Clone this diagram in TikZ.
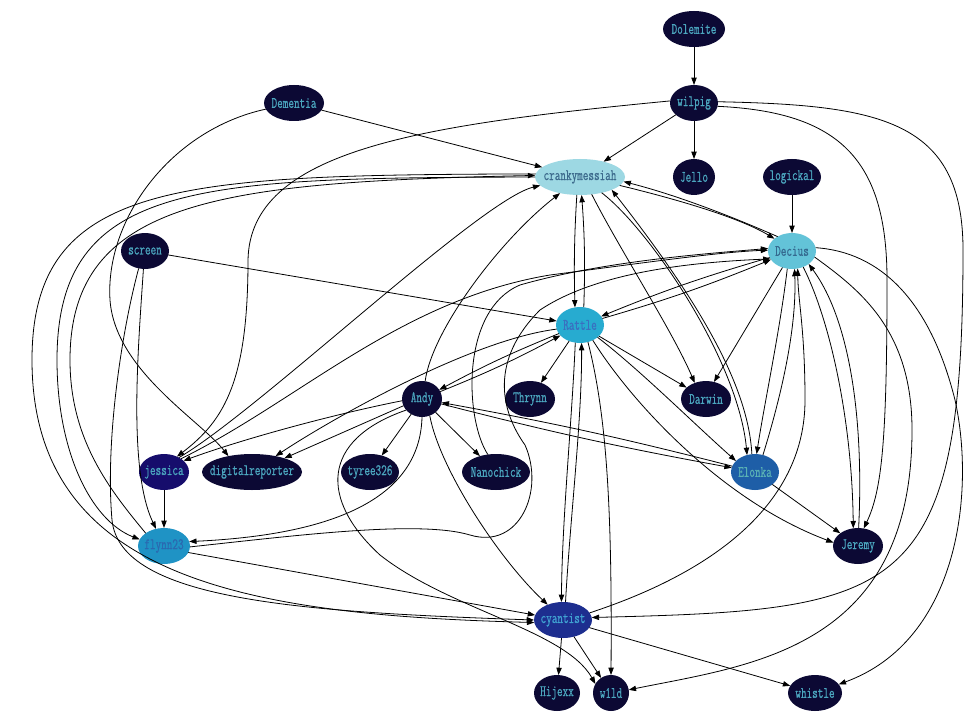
\documentclass[tikz,border=0pt]{standalone}
\usepackage{fontspec}
\newfontfamily\nf[FakeStretch=0.68,FakeBold=0.6]{Latin Modern Mono}
\usetikzlibrary{shapes.geometric,arrows.meta}
\definecolor{dk}{HTML}{0C0934}
\definecolor{cm}{HTML}{9DD8E3}
\definecolor{dc}{HTML}{63C3D8}
\definecolor{rt}{HTML}{27ABD0}
\definecolor{fl}{HTML}{1F93C5}
\definecolor{el}{HTML}{1E5EA7}
\definecolor{cy}{HTML}{1D2E8F}
\definecolor{js}{HTML}{160D6C}
\definecolor{lbl}{HTML}{4BA6BF}
\definecolor{lrt}{HTML}{3A6FC0}
\definecolor{lfl}{HTML}{2B68B0}
\definecolor{lcm}{HTML}{3C6A8C}
\definecolor{ldc}{HTML}{34698F}
\definecolor{lel}{HTML}{5AB2B5}
\definecolor{lcy}{HTML}{40A2D2}
\newcommand\lb[1]{\makebox[0pt]{#1}}
\begin{document}
\begin{tikzpicture}[x=0.75pt,y=-0.75pt,
  nd/.style={ellipse,inner sep=0pt,outer sep=0pt,minimum height=27pt,fill=dk,text=lbl,font=\nf\fontsize{12}{14}\selectfont},
  e/.style={draw=black,line width=0.6pt,-{Triangle[length=5.5pt,width=4pt]}}]
\useasboundingbox (0,0) rectangle (980,720);
\fill[white] (0,0) rectangle (980,720);
% nodes
\node[nd,minimum width=46.5pt] (Dolemite) at (694,29) {\lb{Dolemite}};
\node[nd,minimum width=36pt] (wilpig) at (694,103) {\lb{wilpig}};
\node[nd,minimum width=45pt] (Dementia) at (294,103) {\lb{Dementia}};
\node[nd,fill=cm,text=lcm,minimum width=67.5pt] (crankymessiah) at (580,177) {\lb{crankymessiah}};
\node[nd,minimum width=31.5pt] (Jello) at (694,177) {\lb{Jello}};
\node[nd,minimum width=43.5pt] (logickal) at (792,177) {\lb{logickal}};
\node[nd,minimum width=36pt] (screen) at (145,251) {\lb{screen}};
\node[nd,fill=dc,text=ldc,minimum width=36pt] (Decius) at (792,251) {\lb{Decius}};
\node[nd,fill=rt,text=lrt,minimum width=36pt] (Rattle) at (580,325) {\lb{Rattle}};
\node[nd,minimum width=30pt] (Andy) at (422,399) {\lb{Andy}};
\node[nd,minimum width=37.5pt] (Thrynn) at (530,399) {\lb{Thrynn}};
\node[nd,minimum width=37.5pt] (Darwin) at (706,399) {\lb{Darwin}};
\node[nd,fill=js,minimum width=37.5pt] (jessica) at (164,472) {\lb{jessica}};
\node[nd,minimum width=75pt] (digitalreporter) at (252,472) {\lb{digitalreporter}};
\node[nd,minimum width=43.5pt] (tyree326) at (370,472) {\lb{tyree326}};
\node[nd,minimum width=51pt] (Nanochick) at (496,472) {\lb{Nanochick}};
\node[nd,fill=el,text=lel,minimum width=36pt] (Elonka) at (755,472) {\lb{Elonka}};
\node[nd,fill=fl,text=lfl,minimum width=39pt] (flynn23) at (164,546) {\lb{flynn23}};
\node[nd,minimum width=37.5pt] (Jeremy) at (858,546) {\lb{Jeremy}};
\node[nd,fill=cy,text=lcy,minimum width=43.5pt] (cyantist) at (563,620) {\lb{cyantist}};
\node[nd,minimum width=34.5pt] (Hijexx) at (557,693) {\lb{Hijexx}};
\node[nd,minimum width=27pt] (w1ld) at (611,693) {\lb{w1ld}};
\node[nd,minimum width=40.5pt] (whistle) at (815,693) {\lb{whistle}};
% edges
\draw[e] (Dolemite) -- (wilpig);
\draw[e] (wilpig) -- (crankymessiah);
\draw[e] (wilpig) -- (Jello);
\draw[e] (wilpig.175) .. controls (420,125) and (250,150) .. (248,260) .. controls (248,380) and (225,420) .. (jessica.50);
\draw[e] (wilpig.-8) .. controls (840,112) and (887,160) .. (887,280) .. controls (887,440) and (882,490) .. (Jeremy.72);
\draw[e] (wilpig.3) .. controls (880,105) and (963,120) .. (963,250) .. controls (963,600) and (900,610) .. (cyantist.5);
\draw[e] (Dementia) -- (crankymessiah);
\draw[e] (Dementia) .. controls (170,130) and (105,220) .. (110,300) .. controls (115,370) and (200,420) .. (digitalreporter.146);
\draw[e] (logickal) -- (Decius);
\draw[e] (screen) -- (Rattle);
\draw[e] (screen.-95) .. controls (138,350) and (128,470) .. (flynn23.115);
\draw[e] (screen.-110) .. controls (122,330) and (105,440) .. (112,520) .. controls (120,600) and (300,612) .. (cyantist.180);
\draw[e] (crankymessiah.-100) .. controls (574,240) and (574,270) .. (Rattle.106);
\draw[e] (Rattle.78) .. controls (585,270) and (585,240) .. (crankymessiah.-85);
\draw[e] (crankymessiah.-12) .. controls (680,200) and (740,218) .. (Decius.145);
\draw[e] (Decius.135) .. controls (735,218) and (680,196) .. (crankymessiah.-6);
\draw[e] (crankymessiah.-56) .. controls (620,250) and (672,330) .. (Darwin.125);
\draw[e] (crankymessiah.-36) .. controls (650,230) and (738,360) .. (Elonka.115);
\draw[e] (Elonka.100) .. controls (748,380) and (690,290) .. (crankymessiah.-22);
\draw[e] (crankymessiah.180) .. controls (200,178) and (57,180) .. (57,360) .. controls (57,450) and (90,520) .. (flynn23.165);
\draw[e] (flynn23.145) .. controls (110,490) and (70,440) .. (70,360) .. controls (70,200) and (220,182) .. (crankymessiah.178);
\draw[e] (crankymessiah.176) .. controls (180,175) and (32,180) .. (32,360) .. controls (32,580) and (250,615) .. (cyantist.185);
\draw[e] (jessica.44) .. controls (260,410) and (480,200) .. (crankymessiah.192);
\draw[e] (jessica) -- (flynn23);
\draw[e] (Andy.185) .. controls (330,415) and (240,440) .. (jessica.30);
\draw[e] (Andy.200) -- (digitalreporter.23);
\draw[e] (Rattle.190) .. controls (470,340) and (330,420) .. (digitalreporter.34);
\draw[e] (Andy) -- (tyree326);
\draw[e] (Andy) -- (Nanochick);
\draw[e] (Andy.-90) .. controls (420,500) and (330,535) .. (flynn23.10);
\draw[e] (Andy.-65) .. controls (440,470) and (500,560) .. (cyantist.135);
\draw[e] (Andy.215) .. controls (320,440) and (320,500) .. (380,555) .. controls (450,610) and (565,630) .. (w1ld.150);
\draw[e] (Andy.80) .. controls (432,330) and (500,240) .. (crankymessiah.219);
\draw[e] (Andy) to[bend right=3] (Rattle);
\draw[e] (Rattle) to[bend right=3] (Andy);
\draw[e] (Andy) to[bend right=2] (Elonka);
\draw[e] (Elonka) to[bend right=2] (Andy);
\draw[e] (Rattle) -- (Thrynn);
\draw[e] (Rattle) -- (Darwin);
\draw[e] (Rattle.-35) .. controls (640,370) and (690,420) .. (Elonka.150);
\draw[e] (Rattle.-50) .. controls (630,400) and (720,500) .. (Jeremy.172);
\draw[e] (Rattle.-65) .. controls (608,420) and (612,520) .. (w1ld.north);
\draw[e] (Rattle.-105) .. controls (572,420) and (562,520) .. (cyantist.95);
\draw[e] (cyantist.82) .. controls (570,520) and (582,420) .. (Rattle.-85);
\draw[e] (Rattle) to[bend right=3] (Decius);
\draw[e] (Decius) to[bend right=3] (Rattle);
\draw[e] (jessica.38) .. controls (300,400) and (400,300) .. (550,275) .. controls (650,262) and (720,252) .. (Decius.178);
\draw[e] (Nanochick.115) .. controls (465,420) and (460,310) .. (520,285) .. controls (600,262) and (700,254) .. (Decius.174);
\draw[e] (flynn23.-2) .. controls (300,535) and (420,520) .. (470,535) .. controls (520,550) and (545,490) .. (525,445) .. controls (500,410) and (490,360) .. (540,310) .. controls (600,270) and (700,262) .. (Decius.200);
\draw[e] (Decius.-120) -- (Darwin.65);
\draw[e] (Decius.-105) .. controls (780,330) and (765,400) .. (Elonka.85);
\draw[e] (Elonka.65) .. controls (780,400) and (797,330) .. (Decius.-82);
\draw[e] (Decius.-55) .. controls (830,320) and (852,420) .. (Jeremy.105);
\draw[e] (Jeremy.88) .. controls (864,420) and (850,320) .. (Decius.-38);
\draw[e] (Decius.-15) .. controls (860,290) and (912,330) .. (912,430) .. controls (912,650) and (750,665) .. (w1ld.10);
\draw[e] (Decius.8) .. controls (880,252) and (930,300) .. (955,400) .. controls (975,490) and (960,640) .. (whistle.20);
\draw[e] (cyantist.15) .. controls (720,570) and (805,500) .. (805,400) .. controls (805,330) and (798,300) .. (Decius.-72);
\draw[e] (Elonka) -- (Jeremy);
\draw[e] (flynn23.-15) -- (cyantist.170);
\draw[e] (cyantist) -- (Hijexx);
\draw[e] (cyantist) -- (w1ld);
\draw[e] (cyantist) -- (whistle);
\end{tikzpicture}
\end{document}
